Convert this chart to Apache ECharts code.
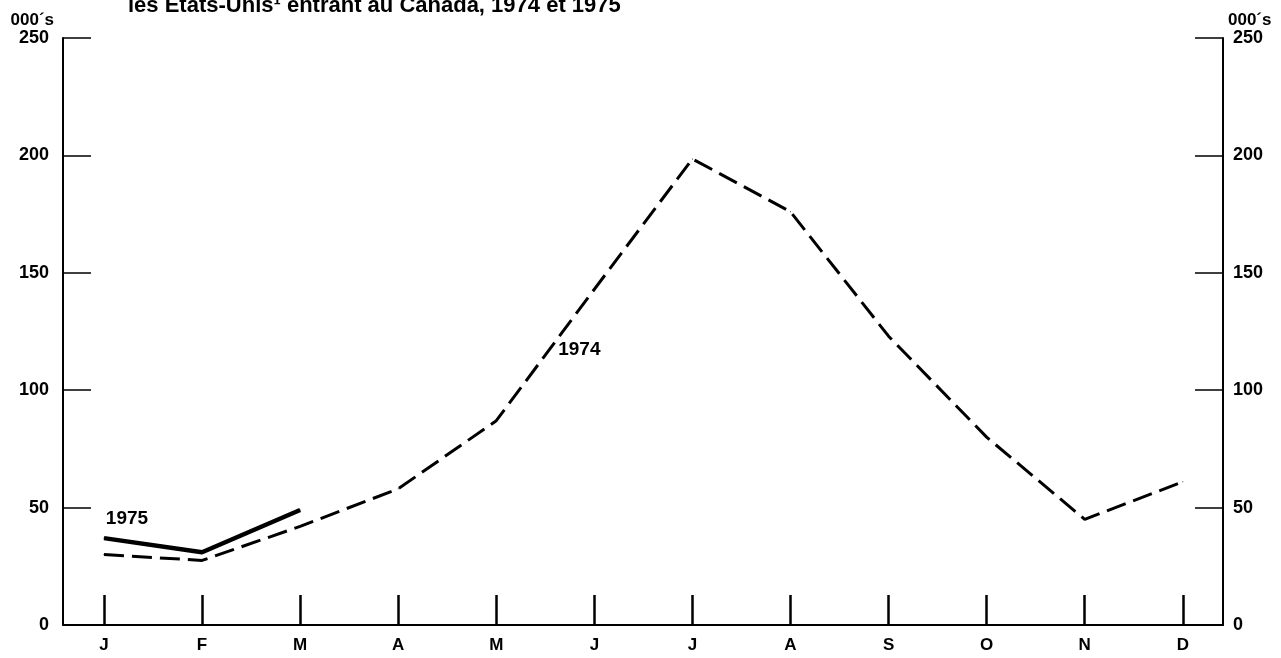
<!DOCTYPE html>
<html>
<head>
<meta charset="utf-8">
<script src="https://cdn.jsdelivr.net/npm/echarts@6/dist/echarts.min.js"></script>
<style>
html,body{margin:0;padding:0;background:#fff;}
#chart{width:1281px;height:658px;}
</style>
</head>
<body>
<div id="chart"></div>
<script>
// Data
const titleText = "les États-Unis¹ entrant au Canada, 1974 et 1975";
const months = ["J","F","M","A","M","J","J","A","S","O","N","D"];
const series1974 = [30, 27.5, 42, 58, 87, 143, 198.5, 176, 123, 80, 45, 61];
const series1975 = [37, 31, 49];
const yTicks = [0, 50, 100, 150, 200, 250];
const unitLabel = "000´s";

const chart = echarts.init(document.getElementById('chart'), null, {renderer: 'canvas'});
const font = 'Liberation Sans, Arial, Helvetica, sans-serif';
const monthIdx = months.map((m, i) => i);

function yAxisDef(pos) {
  const left = pos === 'left';
  return {
    type: 'value',
    position: pos,
    min: yTicks[0], max: yTicks[yTicks.length - 1], interval: yTicks[1] - yTicks[0],
    name: unitLabel,
    nameLocation: 'end',
    nameGap: 8,
    nameTextStyle: {
      fontFamily: font, fontSize: 17, fontWeight: 'bold', color: '#000',
      align: left ? 'right' : 'left',
      padding: left ? [0, 9, 0, 0] : [0, 0, 0, 5]
    },
    axisLine: {show: true, onZero: false, lineStyle: {color: '#000', width: 2}},
    axisTick: {show: true, inside: true, length: 28, lineStyle: {color: '#000', width: 1.5}},
    axisLabel: {show: true, margin: left ? 14 : 10, fontFamily: font, fontSize: 18, fontWeight: 'bold', color: '#000'},
    splitLine: {show: false}
  };
}

const option = {
  backgroundColor: '#fff',
  animation: false,
  title: {
    text: titleText,
    left: 123, top: -10,
    textStyle: {fontFamily: font, fontSize: 22, fontWeight: 'bold', color: '#000'}
  },
  grid: {left: 63, right: 58, top: 38, bottom: 33, containLabel: false},
  xAxis: {
    type: 'value',
    min: -0.418, max: 11.41,
    axisLine: {show: true, onZero: false, lineStyle: {color: '#000', width: 2}},
    axisTick: {show: true, inside: true, length: 30, customValues: monthIdx, lineStyle: {color: '#000', width: 2.5}},
    axisLabel: {
      show: true, customValues: monthIdx, margin: 12,
      fontFamily: font, fontSize: 17, fontWeight: 'bold', color: '#000',
      formatter: v => months[Math.round(v)]
    },
    splitLine: {show: false}
  },
  yAxis: [yAxisDef('left'), yAxisDef('right')],
  series: [
    {
      name: '1974', type: 'line', yAxisIndex: 0,
      symbol: 'circle', symbolSize: 1, showSymbol: true,
      itemStyle: {color: '#000'},
      lineStyle: {color: '#000', width: 3, type: [20, 8]},
      data: series1974.map((v, i) => {
        const d = {value: [i, v]};
        if (i === 5) d.label = {show: true, position: 'inside', offset: [-15, 61], formatter: '1974',
          fontFamily: font, fontSize: 19, fontWeight: 'bold', color: '#000'};
        return d;
      })
    },
    {
      name: '1975', type: 'line', yAxisIndex: 0,
      symbol: 'circle', symbolSize: 1, showSymbol: true,
      itemStyle: {color: '#000'},
      lineStyle: {color: '#000', width: 4.5},
      data: series1975.map((v, i) => {
        const d = {value: [i, v]};
        if (i === 0) d.label = {show: true, position: 'inside', offset: [23, -19], formatter: '1975',
          fontFamily: font, fontSize: 19, fontWeight: 'bold', color: '#000'};
        return d;
      })
    }
  ]
};
chart.setOption(option);
</script>
</body>
</html>
